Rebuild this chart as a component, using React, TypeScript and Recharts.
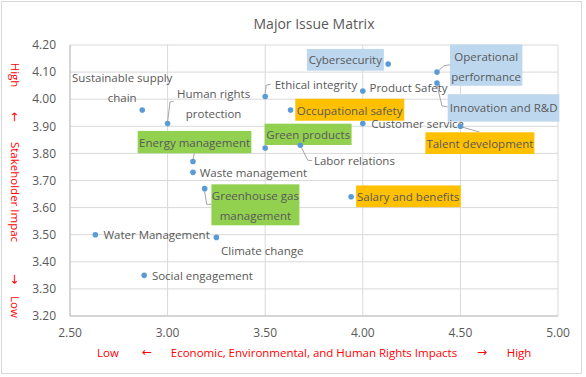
import React from "react";
import { ScatterChart, Scatter, XAxis, YAxis, CartesianGrid } from "recharts";

const issues = [
  "Sustainable supply chain",
  "Human rights protection",
  "Ethical integrity",
  "Occupational safety",
  "Green products",
  "Energy management",
  "Waste management",
  "Greenhouse gas management",
  "Water Management",
  "Climate change",
  "Social engagement",
  "Cybersecurity",
  "Product Safety",
  "Operational performance",
  "Innovation and R&D",
  "Customer service",
  "Talent development",
  "Labor relations",
  "Salary and benefits",
];
const economicImpact = [2.87, 3.0, 3.5, 3.63, 3.5, 3.13, 3.13, 3.19, 2.63, 3.25, 2.88, 4.13, 4.0, 4.38, 4.38, 4.0, 4.5, 3.68, 3.94];
const stakeholderImpact = [3.96, 3.91, 4.01, 3.96, 3.82, 3.77, 3.73, 3.67, 3.5, 3.49, 3.35, 4.13, 4.03, 4.1, 4.06, 3.91, 3.9, 3.83, 3.64];
const xTicks = [2.5, 3.0, 3.5, 4.0, 4.5, 5.0];
const yTicks = [3.2, 3.3, 3.4, 3.5, 3.6, 3.7, 3.8, 3.9, 4.0, 4.1, 4.2];

const data = issues.map((name, i) => ({ name, x: economicImpact[i], y: stakeholderImpact[i] }));

const BLUE = "#BDD7EE";
const GREEN = "#92D050";
const GOLD = "#FFC000";
const FONT = "'Open Sans', 'Noto Sans', sans-serif";
const ARROW_FONT = "'DejaVu Sans', sans-serif";

type Layout = {
  lines: string[];
  dx: number;
  dy: number;
  step?: number;
  anchor?: "start" | "middle";
  box?: [number, number, number, number];
  bg?: string;
  leader?: number[][];
};

// label placement relative to the point (pixels)
const layout: Record<string, Layout> = {
  "Sustainable supply chain": { lines: ["Sustainable supply", "chain"], dx: -20, dy: -33, anchor: "middle" },
  "Human rights protection": { lines: ["Human rights", "protection"], dx: 46, dy: -30, anchor: "middle", leader: [[0, -2], [2.4, -21.6], [6, -22.3]] },
  "Ethical integrity": { lines: ["Ethical integrity"], dx: 9.5, dy: -12.3, leader: [[0, -3], [1, -11.3], [5.4, -12.3]] },
  "Occupational safety": { lines: ["Occupational safety"], dx: 59, dy: 0, anchor: "middle", box: [4.7, -11.3, 109, 22], bg: GOLD },
  "Green products": { lines: ["Green products"], dx: 43, dy: -13.5, anchor: "middle", box: [-0.6, -24.3, 87, 21.3], bg: GREEN },
  "Energy management": { lines: ["Energy management"], dx: 1.6, dy: -19.5, anchor: "middle", box: [-55.3, -30.6, 113.7, 22.3], bg: GREEN, leader: [[0, -2], [1.4, -8.3]] },
  "Waste management": { lines: ["Waste management"], dx: 6.7, dy: 0 },
  "Greenhouse gas management": { lines: ["Greenhouse gas", "management"], dx: 50.7, dy: 7, anchor: "middle", box: [6.7, -4.3, 88, 41], bg: GREEN, leader: [[0, 3], [2, 15.7], [6.7, 15.7]] },
  "Water Management": { lines: ["Water Management"], dx: 8, dy: 0 },
  "Climate change": { lines: ["Climate change"], dx: 4.7, dy: 12.7 },
  "Social engagement": { lines: ["Social engagement"], dx: 7.7, dy: 0 },
  Cybersecurity: { lines: ["Cybersecurity"], dx: -42.8, dy: -4, anchor: "middle", box: [-81.3, -15, 77, 21.7], bg: BLUE },
  "Product Safety": { lines: ["Product Safety"], dx: 6.7, dy: -4 },
  "Operational performance": { lines: ["Operational", "performance"], dx: 49.2, dy: -16, anchor: "middle", box: [13, -27.7, 72.4, 41.4], bg: BLUE, leader: [[1, -1], [7, -6.3], [13, -7.3]] },
  "Innovation and R&D": { lines: ["Innovation and R&D"], dx: 66.7, dy: 25, anchor: "middle", box: [10.7, 11.3, 111.7, 27.4], bg: BLUE, leader: [[0, 2], [5, 23], [10.7, 24]] },
  "Customer service": { lines: ["Customer service"], dx: 8.4, dy: 0 },
  "Talent development": { lines: ["Talent development"], dx: 19.5, dy: 17, anchor: "middle", box: [-35, 6, 109, 21.7], bg: GOLD, leader: [[1.5, 0.7], [19, 5.7]] },
  "Labor relations": { lines: ["Labor relations"], dx: 13.6, dy: 15.7, leader: [[0.6, 1.4], [7.6, 15], [11.6, 15.4]] },
  "Salary and benefits": { lines: ["Salary and benefits"], dx: 57, dy: 0, anchor: "middle", box: [5, -11.3, 104.7, 21.7], bg: GOLD },
};

const PointShape = (props: any) => {
  const { cx, cy, payload } = props;
  const l = layout[payload.name];
  const step = l.step ?? 20;
  return (
    <g>
      {l.leader && (
        <polyline
          points={l.leader.map((p) => `${cx + p[0]},${cy + p[1]}`).join(" ")}
          fill="none"
          stroke="#A6A6A6"
          strokeWidth={1}
        />
      )}
      <circle cx={cx} cy={cy} r={2.8} fill="#5B9BD5" />
      {l.box && <rect x={cx + l.box[0]} y={cy + l.box[1]} width={l.box[2]} height={l.box[3]} fill={l.bg} />}
      {l.lines.map((t, i) => (
        <text
          key={i}
          x={cx + l.dx}
          y={cy + l.dy + i * step}
          textAnchor={l.anchor ?? "start"}
          dominantBaseline="central"
          fontSize={11.5}
          fontFamily={FONT}
          fill="#595959"
        >
          {t}
        </text>
      ))}
    </g>
  );
};

const red = "#FF0000";

export default function App() {
  return (
    <div style={{ position: "relative", width: 586, height: 377, fontFamily: FONT, background: "#fff" }}>
      <style>{"body{margin:0;}"}</style>
      <div
        style={{
          position: "absolute",
          left: 1,
          top: 1,
          width: 581,
          height: 373,
          border: "1px solid #D9D9D9",
          boxSizing: "border-box",
        }}
      />
      <ScatterChart width={586} height={377} margin={{ top: 45, right: 28, bottom: 31, left: 20 }}>
        <CartesianGrid stroke="#D9D9D9" />
        <XAxis
          type="number"
          dataKey="x"
          domain={[2.5, 5]}
          ticks={xTicks}
          tickFormatter={(v: number) => v.toFixed(2)}
          tickLine={false}
          axisLine={{ stroke: "#BFBFBF" }}
          tickMargin={6}
          height={30}
          tick={{ fill: "#595959", fontSize: 12, fontFamily: FONT }}
        />
        <YAxis
          type="number"
          dataKey="y"
          domain={[3.2, 4.2]}
          ticks={yTicks}
          tickFormatter={(v: number) => v.toFixed(2)}
          tickLine={false}
          axisLine={{ stroke: "#BFBFBF" }}
          tickMargin={8}
          width={50}
          tick={{ fill: "#595959", fontSize: 12, fontFamily: FONT }}
        />
        <Scatter data={data} shape={PointShape} isAnimationActive={false} />
      </ScatterChart>
      <svg width={586} height={377} style={{ position: "absolute", left: 0, top: 0, pointerEvents: "none" }}>
        <text x={314} y={23} textAnchor="middle" dominantBaseline="central" fontSize={14} fill="#595959" fontFamily={FONT}>
          Major Issue Matrix
        </text>
        <g fontSize={11.5} fill={red} fontFamily={FONT} textAnchor="middle" dominantBaseline="central">
          <text x={108} y={352}>Low</text>
          <text x={147} y={352} fontFamily={ARROW_FONT} fontSize={12}>←</text>
          <text x={314} y={352}>Economic, Environmental, and Human Rights Impacts</text>
          <text x={482} y={352} fontFamily={ARROW_FONT} fontSize={12}>→</text>
          <text x={519} y={352}>High</text>
        </g>
        <g fontSize={11.5} fill={red} fontFamily={FONT} textAnchor="middle" dominantBaseline="central">
          <text transform="translate(15,75) rotate(90)">High</text>
          <text transform="translate(15,117) rotate(90)" fontFamily={ARROW_FONT} fontSize={12}>←</text>
          <text transform="translate(15,192) rotate(90)">Stakeholder Impac</text>
          <text transform="translate(15,279) rotate(90)" fontFamily={ARROW_FONT} fontSize={12}>→</text>
          <text transform="translate(15,307) rotate(90)">Low</text>
        </g>
      </svg>
    </div>
  );
}
